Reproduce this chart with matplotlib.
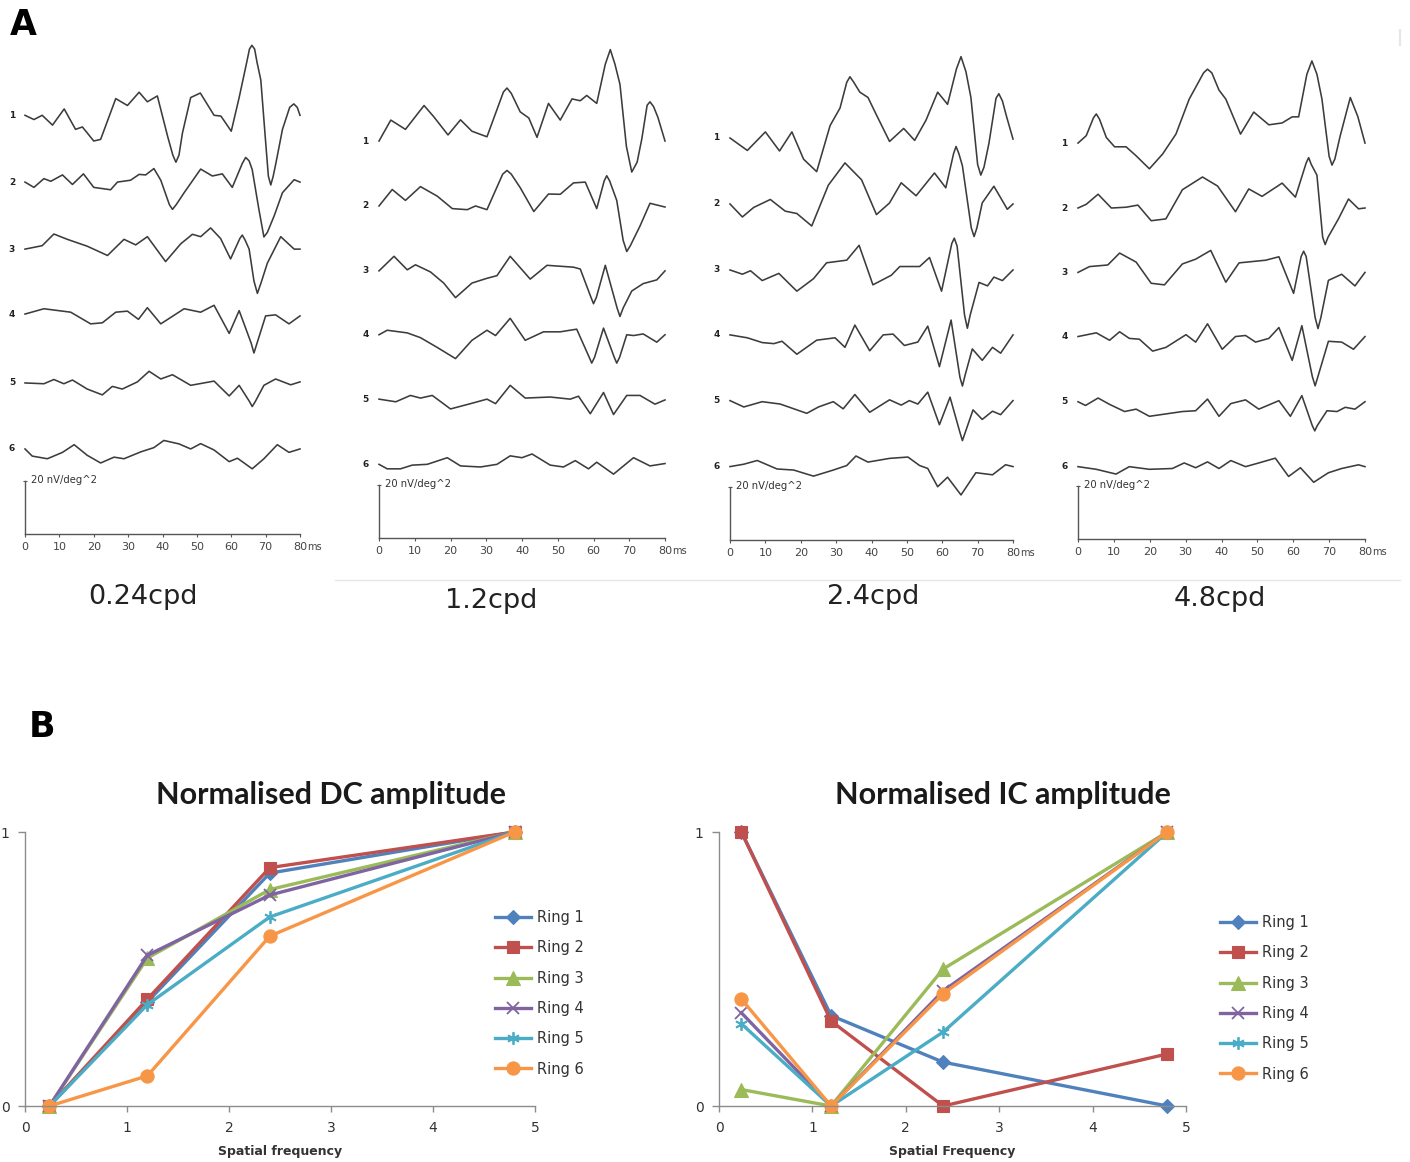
import matplotlib
matplotlib.use('Agg')
import matplotlib.pyplot as plt
from matplotlib.lines import Line2D

# ---------------- panel A: mfERG traces (time in ms, amplitude in nV/deg^2) -------------
freq_labels = ['0.24cpd', '1.2cpd', '2.4cpd', '4.8cpd']
ring_numbers = ['1', '2', '3', '4', '5', '6']
ms_ticks = [0, 10, 20, 30, 40, 50, 60, 70, 80]

w024_1 = [(0, 0), (2.6, -1.6), (5, 0), (8, -3.7), (11.4, 2.4), (14.7, -5.3), (16.7, -4.4), (20, -9.7),
          (22, -9.1), (26.4, 6.3), (29.8, 3.7), (33.2, 8.7), (35.6, 5.1), (38.5, 7.3), (41.5, -8),
          (43, -15), (43.9, -17.7), (44.8, -15), (45.8, -6.7), (48.2, 6.7), (51, 8.4), (55, 0),
          (57, -0.3), (60, -6.0), (62.3, 6.7), (64.5, 20), (65.3, 25), (66, 26.4), (66.8, 25),
          (67.5, 20), (68.6, 13.3), (70, -10), (70.8, -23), (71.5, -26.3), (72.2, -23), (73, -18),
          (74.9, -5.3), (77, 3), (78.2, 4.3), (79.2, 3), (80, 0)]
w024_2 = [(0, 0), (2.6, -2), (5.5, 1.3), (7.5, 0.3), (10.9, 2.7), (13.8, -0.9), (17, 3.1), (20, -2),
          (24.9, -2.9), (26.9, 0), (30.7, 0.7), (33.2, 2.9), (35.1, 2.7), (37.5, 5.1), (39.5, 0.7),
          (42, -8.5), (42.9, -10.3), (44, -8.5), (46.3, -4), (51.1, 4.9), (54.5, 2.3), (57.4, 3.1),
          (60.3, -2), (63.2, 7), (64.2, 9.3), (65.2, 8), (66.1, 4.7), (68, -10), (69.5, -20.7),
          (70.5, -19), (72.5, -12.7), (74.9, -4), (78.3, 0.9), (80, 0)]
w024_3 = [(0, 0), (5, 1.3), (8.4, 5.7), (12.3, 3.7), (18.1, 1.1), (24, -2.4), (28.8, 3.7), (32.2, 1.6),
          (35.6, 4.7), (40.9, -4.7), (45.3, 2), (48.7, 5.6), (51.1, 4.7), (54, 8), (56.9, 4),
          (59.8, -3.7), (62.5, 4), (63.2, 5.3), (64, 3.5), (65.2, 0), (66.6, -12), (67.6, -16.7),
          (68.6, -13), (70.5, -5.3), (74.4, 4.7), (78.3, 0), (80, 0)]
w024_4 = [(0, 0), (5.5, 2), (13.3, 0.7), (19.1, -3.7), (22.5, -3.3), (26.4, 0.7), (29.8, 1.1), (33, -2),
          (35.6, 2.4), (39.5, -3.7), (46.3, 2), (51.1, 0.7), (55, 3.3), (59.4, -7.3), (62.3, 1.3),
          (65.8, -11), (66.6, -14.7), (67.5, -11), (70, -0.7), (72.9, -0.3), (76.8, -3.7), (80, -0.7)]
w024_5 = [(0, 0), (5.5, -0.3), (8.4, 1.3), (11.3, -0.3), (13.8, 1.1), (18.1, -2.3), (22.5, -4.5),
          (25.4, -1.3), (28.3, -2.3), (32.7, 0.4), (36.1, 4.4), (39.5, 1.5), (42.9, 3.1), (48.2, -0.9),
          (55, 0.7), (59.4, -4.9), (62.3, -0.9), (65.3, -7), (66.1, -8.9), (67, -7), (69.5, -0.9),
          (72.9, 1.5), (77.3, -0.7), (80, 0.4)]
w024_6 = [(0, 0), (2.1, -2.7), (6.5, -3.7), (10.9, -1.3), (14.3, 1.6), (18.1, -2.4), (22, -5.3),
          (25.9, -3.1), (28.8, -3.7), (33.7, -1.1), (37.5, 0.5), (40.4, 3.2), (44.8, 1.9), (48.2, 0),
          (51.1, 2), (55, -0.4), (59.4, -4.8), (61.8, -3.5), (66.1, -7.5), (69.5, -3.7), (73.4, 1.6),
          (76.8, -1.3), (80, 0)]

w12_1 = [(0, 0), (3.3, 7.9), (7.4, 4.4), (12.6, 13.4), (15.3, 9.2), (19.3, 2.3), (22.8, 8), (26, 3.7),
         (30.2, 1.6), (34.8, 18.5), (35.8, 20), (37, 18), (39.5, 11), (41.9, 8.7), (44.2, 1.4),
         (47.4, 14.2), (50.7, 7.9), (54, 15.9), (56.3, 15.2), (58.1, 17.2), (60.9, 14.2), (63.3, 29),
         (64.7, 34.5), (66, 29), (67.4, 21.4), (69.2, -2), (70.7, -11.7), (72.2, -8), (73.5, 0.7),
         (75, 13.5), (75.8, 14.8), (76.8, 13), (78, 9), (80, 0)]
w12_2 = [(0, 0), (3.7, 6.2), (7.4, 2.1), (11.6, 7.3), (16.3, 3.7), (20.5, -1), (24.7, -1.4), (27, 0),
         (30.2, -1.4), (34.6, 12), (35.8, 13.4), (37, 12), (39.5, 6.9), (43.3, -2.1), (47.4, 4.5),
         (50.7, 4.4), (54.4, 8.7), (57.7, 9), (60.9, -1), (63, 9.5), (63.7, 11.4), (64.5, 9.5),
         (66.5, 2.1), (68.3, -13), (69.3, -17.2), (70.3, -15), (73, -7.6), (75.8, 1), (80, -0.4)]
w12_3 = [(0, 0), (4.2, 5.5), (7.9, 0.4), (10.2, 2.3), (14.4, -0.4), (18.1, -4.6), (21.4, -10.1),
         (26, -4.6), (30.2, -2.8), (33, -1.8), (36.7, 5.5), (42.3, -3.1), (47, 2.1), (54.4, 1.4),
         (56.3, 0.7), (59.3, -10), (60, -12.4), (60.8, -10), (63.3, 2.1), (66.6, -14), (67.4, -17.2),
         (68.3, -14), (70.7, -7.6), (73.9, -4.8), (77.7, -3.4), (80, 0)]
w12_4 = [(0, 0), (2.3, 1.7), (7.9, 0.7), (11.6, -1.1), (16.3, -4.8), (21.4, -9), (26, -2.1), (30.2, 1.7),
         (32.6, -0.3), (36.7, 6.2), (40.9, -2.1), (46, 1.1), (50.7, 1.1), (55.3, 2.1), (58.8, -8.5),
         (59.5, -10.7), (60.3, -8.5), (62.8, 2.5), (65.8, -8.5), (66.5, -10.7), (67.3, -8.5), (69.3, 0),
         (71.2, -0.3), (73.9, 0.3), (77.7, -2.8), (80, 0)]
w12_5 = [(0, 0), (4.7, -1), (8.8, 1.4), (11.6, 0.4), (14.9, 1.4), (20, -3.7), (25.6, -1.7), (30.2, 0),
         (32.6, -1.7), (36.7, 5.2), (40.9, 0.4), (47.9, 0.8), (53.5, 0), (55.8, 1.1), (59.1, -5.5),
         (62.8, 2.5), (65.6, -5.8), (69.3, 1.4), (73, 1.4), (77.2, -1.9), (80, -0.3)]
w12_6 = [(0, 0), (2.3, -1.7), (6, -1.7), (9.3, -0.3), (13.5, 0), (19.1, 2.5), (22.8, -0.6), (28.4, -1),
         (33, 0), (36.7, 3.2), (40, 2.5), (42.8, 3.9), (47.9, -0.3), (51.6, -1), (54.9, 1.4),
         (58.6, -1.7), (60.9, 0.8), (65.6, -3.7), (71.2, 2.5), (75.8, -0.6), (80, 0.3)]

w24_1 = [(0, 0), (4.9, -4.7), (10, 2.3), (14, -4.9), (17.5, 2.3), (20.8, -8), (24.5, -12.7), (28.3, 4.7),
         (31.1, 11.3), (33, 21), (33.9, 23.1), (35, 21), (36.7, 17.3), (39, 15.3), (41.4, 8.7),
         (45.1, -1.3), (49.1, 3.6), (52.2, -0.9), (55.4, 6.7), (58.7, 17.3), (61.5, 12.7), (64, 26),
         (65.3, 30.7), (66.7, 25), (68.1, 15.3), (70, -10), (70.9, -14), (71.8, -11), (73.2, -2),
         (75.2, 15), (76, 16.7), (77, 14), (78.2, 8), (80, -0.4)]
w24_2 = [(0, 0), (3.5, -4.9), (6.7, -1.3), (11.4, 1.7), (15.6, -2.7), (18.9, -3.6), (23.1, -8.3),
         (27.8, 7.1), (32.5, 15.5), (37.2, 9.1), (41.4, -4), (45.1, 0.4), (48.4, 8), (52.6, 3.1),
         (57.8, 11.7), (61, 6.1), (63.2, 19), (63.9, 21.7), (64.7, 19), (65.7, 14.4), (68.2, -9),
         (69, -12.3), (69.8, -9), (71.3, 0.4), (74.6, 6.7), (78.4, -2), (80, 0)]
w24_3 = [(0, 0), (3.5, -1.6), (5.8, -0.3), (9.1, -4), (13.8, -1.3), (18.9, -8), (23.6, -3.3), (27.3, 2.7),
         (33, 3.7), (36.5, 9.3), (40.4, -5.6), (45.6, -2), (48, 1.3), (53.6, 1.3), (56.4, 4.7),
         (59.8, -8), (62.7, 10), (63.4, 12), (64.2, 9), (66.3, -17), (67.1, -22), (67.9, -17),
         (70.4, -4.7), (72.8, -6), (74.6, -2.7), (77, -4), (80, 0)]
w24_4 = [(0, 0), (4.9, -1.1), (9.1, -2.9), (12.4, -3.3), (14.7, -2.4), (18.9, -7.3), (24.5, -2),
         (29.7, -1.1), (32.5, -4.7), (35.3, 3.7), (39.5, -6), (43.3, 0), (46.1, 0.3), (49.3, -4),
         (53.1, -2.7), (55.9, 3.3), (59.2, -12), (62.5, 5.6), (65, -16), (65.7, -19.3), (66.5, -15),
         (68.5, -5.3), (71.3, -9.6), (74.2, -4.7), (76.5, -6.9), (80, 0)]
w24_5 = [(0, 0), (3.9, -2.4), (9.1, -0.4), (14.2, -1.3), (21.7, -4.8), (25, -2.4), (29.2, -0.4), (32, -3.1),
         (35.3, 2.3), (39.5, -4.4), (45.1, 0.3), (48.4, -1.7), (50.7, 0), (53.1, -1.3), (55.9, 3.2),
         (59.2, -9.1), (62.2, 1.3), (65, -12), (65.7, -15.1), (66.5, -12), (68.7, -3.5), (71.3, -7.1),
         (74.2, -4), (76.5, -5.3), (80, 0)]
w24_6 = [(0, 0), (3.9, 0.9), (7.7, 2.3), (13.3, -0.9), (18, -1.3), (23.6, -3.6), (29.2, -1.3), (33, 0.4),
         (35.6, 4), (39, 1.7), (45.1, 3.1), (50.3, 3.6), (53.6, 0.4), (55.9, -0.7), (58.7, -7.6),
         (61.5, -4), (65.3, -10.7), (69.5, -2.3), (74.2, -3.1), (77.9, 0.7), (80, 0)]

w48_1 = [(0, 0), (2.3, 2.8), (4.3, 9.5), (5.1, 11), (6, 9), (7.9, 2.1), (10.2, -1.4), (13.4, -1.4),
         (16.2, -4.8), (19.9, -9.7), (23.6, -4.1), (27.3, 3.4), (31, 16.6), (35, 26.5), (36.1, 27.9),
         (37.3, 26.5), (39.3, 20), (41.2, 16.6), (45.3, 3.4), (49, 11.7), (53.2, 6.9), (56.9, 7.6),
         (59.7, 9.9), (61.5, 9.9), (63.8, 26), (65.2, 31), (66.6, 26), (68, 16.6), (70, -5),
         (70.8, -8.3), (71.6, -6), (73.1, 2.8), (75.9, 17.2), (78, 10), (80, 0)]
w48_2 = [(0, 0), (2.3, 1.4), (5.6, 5.2), (9.3, 0), (13.4, 0.3), (16.7, 1.1), (20.4, -4.8), (24.5, -4.1),
         (29.1, 6.9), (34.7, 11.7), (38.9, 8.3), (43.9, -1.4), (47.6, 7.2), (51.3, 4.4), (56.9, 9.4),
         (60.6, 4.1), (63.6, 17), (64.3, 19), (65, 16.5), (66.6, 12.4), (68.2, -11), (68.9, -13.8),
         (69.7, -11), (72.6, -4.1), (75.4, 3.4), (78.2, -0.3), (80, 0)]
w48_3 = [(0, 0), (3.2, 2.2), (8.3, 2.8), (11.6, 7.3), (16.2, 3.9), (20.4, -4.1), (24.1, -4.7), (29.1, 3.2),
         (32.8, 5), (37, 8.3), (41.2, -3.7), (44.9, 3.6), (52.3, 4.6), (56, 5.9), (60.1, -7.9),
         (62.2, 6), (62.9, 8), (63.6, 6), (66.1, -17), (66.9, -21.2), (67.7, -17), (69.8, -3),
         (73.5, -0.7), (77.2, -5.1), (80, 0)]
w48_4 = [(0, 0), (5.1, 1.4), (8.8, -1.4), (11.6, 1.8), (14.3, -0.7), (17.1, -1), (20.8, -5.5), (24.5, -4.1),
         (30.1, 0.7), (32.8, -2.1), (36.1, 4.8), (40.2, -4.8), (43.9, 0), (46.7, 0.4), (49.5, -2.1),
         (53.2, -0.7), (56, 3.4), (59.7, -9), (62.4, 4.1), (65.3, -15), (66.1, -18.6), (66.9, -15),
         (69.8, -1.8), (73.5, -2.1), (76.8, -4.8), (80, 0)]
w48_5 = [(0, 0), (2.1, -1.4), (5.6, 1.4), (8.8, -1), (13, -3.7), (16.2, -2.8), (19.9, -5.5), (24.5, -4.6),
         (29.1, -3.7), (32.8, -3.4), (36.1, 1), (39.3, -5.5), (42.6, -0.7), (46.7, 0.7), (50.4, -2.8),
         (56, 0.4), (59.2, -5.5), (62.4, 2.3), (65.3, -9), (66, -11), (66.7, -9), (69.4, -3.4),
         (72.2, -3.7), (74.5, -2.1), (77.2, -2.8), (80, 0)]
w48_6 = [(0, 0), (5.1, -1), (10.6, -2.8), (14.3, 0), (19.9, -1), (26.3, -0.7), (29.6, 1.4), (32.8, -0.4),
         (36.1, 1.8), (39.3, -0.7), (42.6, 2.3), (46.7, 0), (50.4, 1.4), (55, 3.2), (58.7, -3.7),
         (62, -0.4), (65.7, -5.9), (69.8, -2.3), (73.5, -0.7), (78.2, 0.7), (80, 0)]

traces_024 = [w024_1, w024_2, w024_3, w024_4, w024_5, w024_6]
traces_12 = [w12_1, w12_2, w12_3, w12_4, w12_5, w12_6]
traces_24 = [w24_1, w24_2, w24_3, w24_4, w24_5, w24_6]
traces_48 = [w48_1, w48_2, w48_3, w48_4, w48_5, w48_6]

# ---------------- panel B: normalised amplitudes ----------------
spatial_freq = [0.24, 1.2, 2.4, 4.8]
ring_names = ['Ring 1', 'Ring 2', 'Ring 3', 'Ring 4', 'Ring 5', 'Ring 6']
dc_ring1 = [0, 0.38, 0.85, 1]
dc_ring2 = [0, 0.39, 0.87, 1]
dc_ring3 = [0, 0.54, 0.79, 1]
dc_ring4 = [0, 0.55, 0.77, 1]
dc_ring5 = [0, 0.37, 0.69, 1]
dc_ring6 = [0, 0.11, 0.62, 1]
ic_ring1 = [1, 0.33, 0.16, 0]
ic_ring2 = [1, 0.31, 0, 0.19]
ic_ring3 = [0.06, 0, 0.50, 1]
ic_ring4 = [0.34, 0, 0.42, 1]
ic_ring5 = [0.30, 0, 0.27, 1]
ic_ring6 = [0.39, 0, 0.41, 1]

W, H = 1410, 1162
fig = plt.figure(figsize=(W / 100, H / 100), dpi=100)
fig.patch.set_facecolor('white')


def px_axes(x0, y_top, x1, y_bot):
    return fig.add_axes([x0 / W, 1 - y_bot / H, (x1 - x0) / W, (y_bot - y_top) / H])


def fig_text(x, y, s, **kw):
    fig.text(x / W, 1 - y / H, s, **kw)


# panel A layout: pixel x of 0 ms, pixel x of 80 ms, pixel y of time axis, trace offsets
unit_px = 2.65
panels = [
    (25, 300, 534, [158, 132.8, 107.5, 83, 57, 32.1], traces_024, 143, 597),
    (379, 665, 538, [149.8, 125.3, 100.8, 76.7, 52.4, 27.8], traces_12, 491, 601),
    (730, 1013, 540, [151.7, 126.8, 101.9, 77.4, 52.6, 27.7], traces_24, 873, 597),
    (1078, 1365, 539, [149.4, 124.9, 100.6, 76.4, 51.8, 27.3], traces_48, 1220, 599),
]

for i, (x0, x80, ya, offsets, traces, cx, cy) in enumerate(panels):
    ax = px_axes(x0, 30, x80, ya)
    ax.set_xlim(0, 80)
    ax.set_ylim(0, (ya - 30) / unit_px)
    ax.patch.set_alpha(0)
    for s in ['top', 'right']:
        ax.spines[s].set_visible(False)
    ax.spines['left'].set_bounds(0, 20)
    for s in ['left', 'bottom']:
        ax.spines[s].set_color('#555555')
        ax.spines[s].set_linewidth(1.0)
    ax.set_xticks(ms_ticks)
    ax.tick_params(axis='x', length=2.5, width=0.8, color='#555555', labelsize=8,
                   labelcolor='#444444', pad=3)
    ax.set_yticks([20])
    ax.set_yticklabels([''])
    ax.tick_params(axis='y', length=3, width=0.8, direction='inout', color='#555555')
    ax.annotate('ms', xy=(80, 0), xycoords=ax.get_xaxis_transform(), xytext=(5, -5.5),
                textcoords='offset points', ha='left', va='top', fontsize=7, color='#444444')
    ax.text(1.6, 20.5, '20 nV/deg^2', fontsize=7.2, color='#333333', ha='left', va='center')
    for k, (tr, off) in enumerate(zip(traces, offsets)):
        t = [p[0] for p in tr]
        v = [off + p[1] for p in tr]
        ax.plot(t, v, color='#3c3c3c', lw=1.15, solid_joinstyle='round', clip_on=False)
        ax.text(-3.8, off, ring_numbers[k], fontsize=6.5, weight='bold', ha='center',
                va='center', color='#222222')
    fig_text(cx, cy, freq_labels[i], fontsize=19.5, ha='center', va='center', color='#222222')

# faint separator lines seen in the scan
fig.add_artist(Line2D([335 / W, 1400 / W], [1 - 580 / H, 1 - 580 / H], color='#e6e6e6', lw=1))
fig.add_artist(Line2D([1400 / W, 1400 / W], [1 - 30 / H, 1 - 45 / H], color='#e6e6e6', lw=1.5))

fig_text(23, 25, 'A', fontsize=25, weight='bold', ha='center', va='center')
fig_text(42, 727, 'B', fontsize=25, weight='bold', ha='center', va='center')

# ---------------- panel B ----------------
colors = ['#4F81BD', '#C0504D', '#9BBB59', '#8064A2', '#4BACC6', '#F79646']
markers = ['D', 's', '^', 'x', (6, 2, 0), 'o']
msizes = [7, 9, 9.5, 9, 9, 9.5]

dc_series = [dc_ring1, dc_ring2, dc_ring3, dc_ring4, dc_ring5, dc_ring6]
ic_series = [ic_ring1, ic_ring2, ic_ring3, ic_ring4, ic_ring5, ic_ring6]

b_panels = [
    (25, 535, dc_series, 'Normalised DC amplitude', 'Spatial frequency', (495, 910), 331),
    (719, 1186, ic_series, 'Normalised IC amplitude', 'Spatial Frequency', (1220, 915), 1003),
]

for x0, x1, series, title, xlabel, (lx, ly), tx in b_panels:
    ax = px_axes(x0, 832, x1, 1106)
    for vals, c, m, ms, name in zip(series, colors, markers, msizes, ring_names):
        ax.plot(spatial_freq, vals, color=c, lw=2.4, marker=m, markersize=ms,
                markeredgewidth=1.3 if m in ('x', (6, 2, 0)) else 0.8,
                markeredgecolor=c, label=name, clip_on=False)
    ax.set_xlim(0, 5)
    ax.set_ylim(0, 1)
    ax.set_xticks([0, 1, 2, 3, 4, 5])
    ax.set_yticks([0, 1])
    for s in ['top', 'right']:
        ax.spines[s].set_visible(False)
    for s in ['left', 'bottom']:
        ax.spines[s].set_color('#8c8c8c')
        ax.spines[s].set_linewidth(1.0)
    ax.tick_params(axis='x', length=4.5, width=1, color='#8c8c8c', labelsize=10,
                   labelcolor='#333333', pad=6)
    ax.tick_params(axis='y', length=5, width=1, color='#8c8c8c', labelsize=10,
                   labelcolor='#333333', pad=6)
    fig_text(tx, 795, title, fontsize=22, weight='bold', ha='center', va='center',
             family='Lato', color='#1a1a1a')
    fig_text((x0 + x1) / 2, 1152, xlabel, fontsize=9, weight='bold', ha='center',
             va='center', color='#333333')
    ax.legend(loc='upper left', bbox_to_anchor=(lx / W, 1 - ly / H),
              bbox_transform=fig.transFigure, frameon=False, fontsize=10.5,
              handlelength=2.5, handletextpad=0.4, labelspacing=1.05, borderpad=0,
              borderaxespad=0, labelcolor='#333333')

fig.savefig('out.png', dpi=100, facecolor='white')
